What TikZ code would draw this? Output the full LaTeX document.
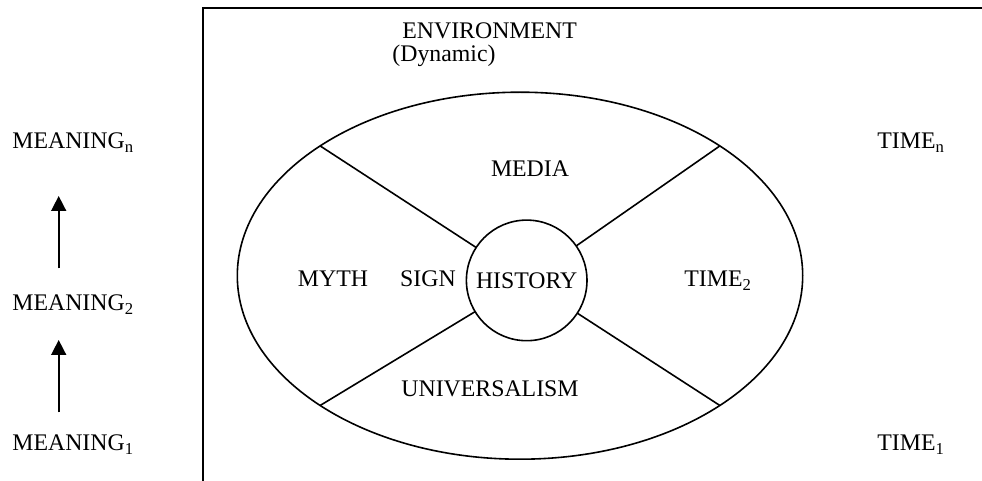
\documentclass[tikz,border=0pt]{standalone}
\usepackage{fontspec}
\setmainfont{Liberation Serif}
\usetikzlibrary{shapes.geometric,arrows.meta}

\begin{document}
\begin{tikzpicture}[x=0.5pt,y=-0.5pt,
    lbl/.style={inner sep=0pt,font=\fontsize{11.9}{11.9}\selectfont},
    rim/.style={draw,line width=0.8pt,outer sep=0pt,inner sep=0pt},
    spoke/.style={line width=0.8pt},
    rise/.style={-{Triangle[length=7.5pt,width=7.5pt]},line width=0.8pt}]
    \useasboundingbox (0,0) rectangle (982,481);
    \draw[line width=1.1pt] (982,8) -- (203,8) -- (203,481);
    \node[lbl,anchor=base west] (environment) at (402,39)   {ENVIRONMENT};
    \node[lbl,anchor=base west] (dynamic)     at (392,61.7) {(Dynamic)};

    \node[rim,ellipse,minimum width=282.7pt,minimum height=183.5pt] (sphere) at (520,275.7) {};
    \node[rim,circle,minimum size=60.3pt,lbl] (history) at (526.7,280.4) {HISTORY};

    \draw[spoke] (sphere.147) -- (history);
    \draw[spoke] (sphere.33)  -- (history);
    \draw[spoke] (sphere.213) -- (history);
    \draw[spoke] (sphere.327) -- (history);

    \node[lbl,anchor=base]      (media)   at (530,177)   {MEDIA};
    \node[lbl,anchor=base]      (myth)    at (333,286.7) {MYTH};
    \node[lbl,anchor=base]      (sign)    at (428,286.7) {SIGN};
    \node[lbl,anchor=base west] (time-2)  at (684,286.7) {TIME\textsubscript{2}};
    \node[lbl,anchor=base]      (univ)    at (490,396.7) {UNIVERSALISM};

    \node[lbl,anchor=base west] (meaning-n) at (12,149) {MEANING\textsubscript{n}};
    \node[lbl,anchor=base west] (meaning-2) at (12,311) {MEANING\textsubscript{2}};
    \node[lbl,anchor=base west] (meaning-1) at (12,451) {MEANING\textsubscript{1}};
    \node[lbl,anchor=base west] (time-n)    at (877,149) {TIME\textsubscript{n}};
    \node[lbl,anchor=base west] (time-1)    at (877,451) {TIME\textsubscript{1}};

    \coordinate (up-1-from) at (58.7,412.3);
    \coordinate (up-1-to)   at (58.7,340);
    \coordinate (up-2-from) at (58.7,268.3);
    \coordinate (up-2-to)   at (58.7,196);
    \draw[rise] (up-1-from) -- (up-1-to);
    \draw[rise] (up-2-from) -- (up-2-to);
  \end{tikzpicture}
\end{document}
